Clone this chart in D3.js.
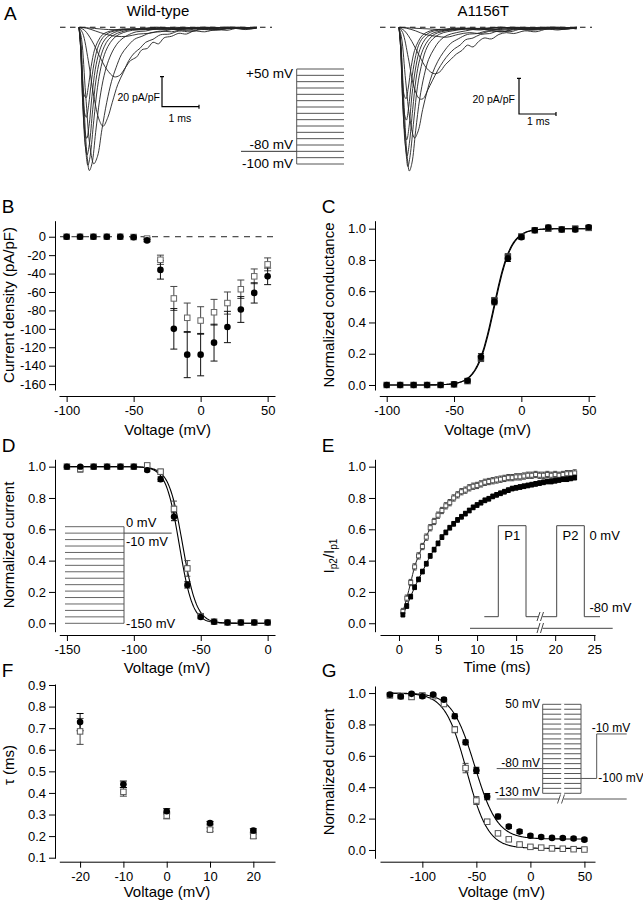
<!DOCTYPE html>
<html><head><meta charset="utf-8">
<script src="https://cdn.jsdelivr.net/npm/d3@7"></script>
<style>
body{margin:0;background:#fff}
svg{display:block;background:#fff}
text{font-family:"Liberation Sans",Arial,Helvetica,sans-serif;fill:#000}
</style></head>
<body><svg id="c" width="643" height="902"></svg>
<script>
// ---------------- DATA ----------------
// Panel A: example traces, [time ms, current pA/pF]
const tracesWT = [
 [[0,0],[0.3,-0.5],[0.8,-1.5],[1.3,-1.5],[1.8,-1],[2.4,-0.5],[3.0,-1],[3.6,0],[4.2,-0.5],[4.8,0]],
 [[0,0],[0.2,-0.5],[0.45,-2.5],[0.7,-4.5],[1.0,-6],[1.3,-6],[1.6,-4.5],[1.9,-4],[2.2,-2.5],[2.5,-3],[2.8,-1.5],[3.1,-2],[3.4,-0.5],[3.8,-1.5],[4.2,-0.5],[4.5,-1],[4.8,0]],
 [[0,0],[0.15,-2],[0.35,-9],[0.55,-19],[0.75,-28],[0.95,-33],[1.1,-32],[1.25,-27],[1.4,-22],[1.55,-20],[1.7,-15],[1.85,-14],[2.0,-10],[2.15,-11],[2.3,-7],[2.5,-6],[2.7,-4],[2.9,-4.5],[3.1,-2.5],[3.4,-3],[3.7,-1.5],[4.0,-2],[4.3,-0.5],[4.6,-1],[4.8,-0.5]],
 [[0,0],[0.1,-4],[0.25,-22],[0.4,-46],[0.55,-62],[0.65,-66],[0.78,-60],[0.9,-50],[1.05,-38],[1.2,-30],[1.35,-22],[1.5,-17],[1.65,-14],[1.8,-10],[2.0,-8],[2.2,-5],[2.45,-4.5],[2.7,-2.5],[3.0,-3],[3.3,-1.5],[3.7,-2],[4.1,-0.5],[4.5,-1.5],[4.8,-0.5]],
 [[0,0],[0.07,-8],[0.18,-45],[0.3,-80],[0.4,-91],[0.5,-86],[0.62,-68],[0.75,-50],[0.88,-36],[1.0,-27],[1.15,-18],[1.3,-13],[1.5,-8],[1.7,-6],[1.95,-3.5],[2.2,-3],[2.5,-1.5],[2.9,-2],[3.3,-0.5],[3.7,-1.5],[4.1,-0.5],[4.5,-1],[4.8,0]],
 [[0,0],[0.05,-10],[0.14,-55],[0.22,-86],[0.28,-95.5],[0.35,-91],[0.45,-70],[0.56,-48],[0.68,-32],[0.8,-22],[0.95,-14],[1.1,-9],[1.3,-5.5],[1.55,-3],[1.8,-2.5],[2.1,-1],[2.5,-1.5],[3.0,-0.5],[3.5,-1.5],[4.0,0],[4.5,-1],[4.8,0]],
 [[0,0],[0.05,-12],[0.12,-55],[0.19,-84],[0.24,-92],[0.3,-86],[0.4,-62],[0.5,-40],[0.6,-26],[0.72,-16],[0.85,-10],[1.0,-6],[1.2,-3.5],[1.45,-2],[1.8,-1.5],[2.2,-0.5],[2.7,-1.5],[3.2,0],[3.8,-1],[4.3,0],[4.8,-0.5]],
 [[0,0],[0.04,-12],[0.11,-55],[0.17,-79],[0.22,-85],[0.28,-78],[0.37,-55],[0.46,-35],[0.56,-22],[0.68,-13],[0.8,-8],[0.95,-5],[1.15,-3],[1.4,-1.5],[1.8,-1],[2.3,-1.5],[2.8,0],[3.4,-1],[4.0,0],[4.8,-0.5]],
 [[0,0],[0.04,-12],[0.1,-50],[0.16,-70],[0.21,-74],[0.27,-66],[0.35,-46],[0.44,-28],[0.54,-17],[0.65,-10],[0.78,-6],[0.95,-3.5],[1.15,-2],[1.5,-1],[2.0,-1.5],[2.6,0],[3.2,-1],[3.9,0],[4.8,-0.5]],
 [[0,0],[0.04,-12],[0.1,-42],[0.15,-57],[0.2,-60],[0.26,-52],[0.34,-35],[0.43,-21],[0.53,-12],[0.64,-7],[0.78,-4],[0.95,-2.5],[1.2,-1.5],[1.6,-1],[2.1,0],[2.7,-1],[3.4,0],[4.1,-0.5],[4.8,0]],
 [[0,0],[0.04,-10],[0.09,-34],[0.14,-45],[0.19,-47],[0.25,-40],[0.33,-26],[0.42,-15],[0.52,-9],[0.63,-5],[0.78,-3],[0.95,-2],[1.2,-1],[1.6,-1.5],[2.1,0],[2.7,-1],[3.4,0],[4.1,-0.5],[4.8,0]]
];
const tracesMut = [
 [[0,0],[0.4,-0.5],[0.9,-1],[1.4,-1.5],[1.9,-0.5],[2.5,-1],[3.1,0],[3.7,-1],[4.3,0],[4.8,-0.5]],
 [[0,0],[0.2,-0.5],[0.45,-2],[0.7,-4],[1.0,-5],[1.3,-5.5],[1.6,-4],[1.9,-3],[2.2,-3.5],[2.5,-2],[2.8,-2.5],[3.1,-1],[3.5,-1.5],[3.9,-0.5],[4.3,-1],[4.8,0]],
 [[0,0],[0.15,-2],[0.35,-8],[0.55,-16],[0.75,-23],[0.95,-26],[1.1,-25],[1.25,-21],[1.4,-18],[1.55,-15],[1.7,-13],[1.85,-10],[2.0,-11],[2.15,-8],[2.3,-6],[2.5,-6.5],[2.7,-4],[2.9,-3],[3.1,-3.5],[3.4,-2],[3.7,-2.5],[4.0,-1],[4.3,-1.5],[4.6,-0.5],[4.8,-1]],
 [[0,0],[0.1,-3],[0.25,-17],[0.4,-33],[0.55,-40],[0.65,-40],[0.78,-35],[0.9,-30],[1.05,-24],[1.2,-19],[1.35,-15],[1.5,-12],[1.65,-10],[1.8,-7],[2.0,-6],[2.2,-4],[2.45,-3.5],[2.7,-2],[3.0,-2.5],[3.3,-1],[3.7,-1.5],[4.1,-0.5],[4.5,-1],[4.8,0]],
 [[0,0],[0.07,-6],[0.18,-30],[0.3,-52],[0.42,-62],[0.52,-58],[0.64,-46],[0.77,-35],[0.9,-26],[1.05,-19],[1.2,-14],[1.4,-9],[1.6,-6.5],[1.85,-4],[2.1,-3.5],[2.4,-2],[2.8,-2.5],[3.2,-1],[3.6,-1.5],[4.0,0],[4.4,-1],[4.8,-0.5]],
 [[0,0],[0.05,-9],[0.14,-45],[0.22,-72],[0.28,-80.5],[0.35,-76],[0.45,-58],[0.56,-40],[0.68,-27],[0.8,-18],[0.95,-12],[1.1,-7.5],[1.3,-4.5],[1.55,-3],[1.8,-2],[2.1,-1],[2.5,-1.5],[3.0,0],[3.5,-1],[4.0,0],[4.5,-1],[4.8,0]],
 [[0,0],[0.05,-10],[0.12,-46],[0.19,-70],[0.24,-78],[0.3,-72],[0.4,-52],[0.5,-33],[0.6,-22],[0.72,-13],[0.85,-8],[1.0,-5],[1.2,-3],[1.45,-2],[1.8,-1],[2.2,-1.5],[2.7,0],[3.2,-1],[3.8,0],[4.3,-0.5],[4.8,0]],
 [[0,0],[0.04,-10],[0.11,-46],[0.17,-66],[0.22,-72],[0.28,-65],[0.37,-46],[0.46,-29],[0.56,-18],[0.68,-11],[0.8,-7],[0.95,-4],[1.15,-2.5],[1.4,-1.5],[1.8,-1],[2.3,-0.5],[2.8,-1.5],[3.4,0],[4.0,-1],[4.8,0]],
 [[0,0],[0.04,-10],[0.1,-42],[0.16,-59],[0.21,-63],[0.27,-56],[0.35,-38],[0.44,-24],[0.54,-14],[0.65,-8.5],[0.78,-5],[0.95,-3],[1.15,-2],[1.5,-1],[2.0,-0.5],[2.6,-1.5],[3.2,0],[3.9,-1],[4.8,0]],
 [[0,0],[0.04,-10],[0.1,-36],[0.15,-49],[0.2,-52],[0.26,-45],[0.34,-30],[0.43,-18],[0.53,-10],[0.64,-6],[0.78,-3.5],[0.95,-2],[1.2,-1.5],[1.6,-0.5],[2.1,-1],[2.7,0],[3.4,-1],[4.1,0],[4.8,-0.5]],
 [[0,0],[0.04,-8],[0.09,-28],[0.14,-38],[0.19,-40],[0.25,-34],[0.33,-22],[0.42,-13],[0.52,-8],[0.63,-4.5],[0.78,-2.5],[0.95,-1.5],[1.2,-1],[1.6,-0.5],[2.1,-1],[2.7,0],[3.4,-0.5],[4.1,0],[4.8,-0.5]]
];
const stepsA = [50,40,30,20,10,0,-10,-20,-30,-40,-50,-60,-70,-80,-90,-100];

// Panel B: current density
const voltsB = [-100,-90,-80,-70,-60,-50,-40,-30,-20,-10,0,10,20,30,40,50];
const wtB    = [0,0,0,0,0,-0.5,-4,-36,-100,-128,-128,-115,-98,-79,-61,-43];
const wtBerr = [0,0,0,0,0,0,1.5,10,22,25,23,20,17,14,11,9];
const mutB   = [0,0,0,0,0,-0.3,-2,-25,-67,-88,-91,-82,-72,-57,-43,-30];
const mutBerr= [0,0,0,0,0,0,1,5,13,16,15,14,12,10,8,7];
const ticksB = [0,-20,-40,-60,-80,-100,-120,-140,-160];

// Panel C: normalized conductance
const voltsC = [-100,-90,-80,-70,-60,-50,-40,-30,-20,-10,0,10,20,30,40,50];
const wtC    = [0,0,0,0,0,0.005,0.028,0.18,0.533,0.81,0.945,0.99,1.008,0.995,0.995,1.01];
const wtCerr = [0,0,0,0,0,0.003,0.008,0.02,0.02,0.02,0.01,0.008,0.015,0.006,0.015,0.01];
const mutC   = [0,0,0,0,0,0.004,0.025,0.17,0.54,0.82,0.95,0.99,1.0,0.995,1.0,1.005];
const mutCerr= [0,0,0,0,0,0.003,0.008,0.02,0.02,0.02,0.01,0.008,0.01,0.006,0.015,0.01];
const fitC = {wt:{vh:-20.5,k:6.3}, mut:{vh:-20,k:6.3}};

// Panel D: steady-state inactivation
const voltsD = [-150,-140,-130,-120,-110,-100,-90,-80,-70,-60,-50,-40,-30,-20,-10,0];
const wtD    = [1.0,1.0,1.0,1.0,1.0,1.0,0.978,0.92,0.68,0.245,0.04,0.01,0.005,0.005,0.005,0.005];
const wtDerr = [0.005,0.005,0.005,0.005,0.005,0.005,0.01,0.015,0.025,0.02,0.008,0.005,0.005,0.005,0.005,0.005];
const mutD   = [1.0,0.985,1.0,1.0,1.0,1.0,1.008,0.968,0.73,0.35,0.045,0.01,0.005,0.005,0.005,0.005];
const mutDerr= [0.005,0.02,0.005,0.005,0.005,0.005,0.01,0.015,0.05,0.05,0.01,0.005,0.005,0.005,0.01,0.01];
const stepsD = [0,-10,-20,-30,-40,-50,-60,-70,-80,-90,-100,-110,-120,-130,-140,-150];
const fitD = {wt:{vh:-66,k:5}, mut:{vh:-63.5,k:5.2}};

// Panel E: recovery from inactivation
const timeE = [0.5,1,1.5,2,2.5,3,3.5,4,4.5,5,5.5,6,6.5,7,7.5,8,8.5,9,9.5,10,10.5,11,11.5,12,12.5,13,13.5,14,14.5,15,15.5,16,16.5,17,17.5,18,18.5,19,19.5,20,20.5,21,21.5,22,22.5];
const wtE  = [0.055,0.11,0.17,0.23,0.28,0.33,0.38,0.43,0.47,0.51,0.55,0.58,0.61,0.635,0.66,0.68,0.7,0.72,0.74,0.755,0.77,0.785,0.795,0.81,0.82,0.83,0.84,0.85,0.86,0.865,0.87,0.875,0.88,0.885,0.89,0.895,0.9,0.905,0.905,0.91,0.915,0.92,0.92,0.925,0.93];
const mutE = [0.075,0.16,0.26,0.36,0.43,0.49,0.55,0.61,0.65,0.69,0.72,0.75,0.77,0.8,0.82,0.84,0.85,0.865,0.875,0.88,0.89,0.9,0.905,0.91,0.915,0.92,0.925,0.93,0.93,0.935,0.935,0.94,0.945,0.945,0.95,0.945,0.945,0.95,0.945,0.95,0.945,0.95,0.955,0.955,0.96];
const errE = {wt:0.015, mut:0.02};

// Panel F: inactivation time constants
const voltsF = [-20,-10,0,10,20];
const wtF    = [0.728,0.44,0.315,0.26,0.226];
const wtFerr = [0.04,0.015,0.012,0.008,0.008];
const mutF   = [0.685,0.405,0.295,0.23,0.2];
const mutFerr= [0.06,0.02,0.015,0.008,0.01];

// Panel G: closed-state inactivation
const voltsG = [-130,-120,-110,-100,-90,-80,-70,-60,-50,-40,-30,-20,-10,0,10,20,30,40,50];
const wtG    = [0.99,0.978,0.995,0.98,0.99,0.958,0.852,0.686,0.507,0.34,0.213,0.149,0.117,0.091,0.083,0.077,0.076,0.073,0.066];
const wtGerr = [0.01,0.01,0.01,0.01,0.01,0.012,0.015,0.015,0.02,0.02,0.015,0.012,0.012,0.01,0.01,0.01,0.01,0.01,0.01];
const mutG   = [0.985,0.98,0.975,0.985,0.98,0.93,0.767,0.522,0.315,0.18,0.106,0.068,0.035,0.02,0.015,0.01,0.008,0.005,0.003];
const mutGerr= [0.01,0.01,0.015,0.01,0.01,0.015,0.02,0.03,0.025,0.015,0.01,0.01,0.008,0.008,0.006,0.006,0.006,0.006,0.006];
const stepsG = [50,40,30,20,10,0,-10,-20,-30,-40,-50,-60,-70,-80,-90,-100,-110,-120,-130];
const fitG = {wt:{vh:-51.5,k:10.5,c:0.07}, mut:{vh:-59,k:10,c:0.01}};

// ---------------- DRAWING ----------------
const svg = d3.select('#c');
const FONT = '"Liberation Sans", Arial, Helvetica, sans-serif';
const fmtInt = d => String(d);
const fmt1 = d => d.toFixed(1);

function txt(g, x, y, s, size, anchor){
  return g.append('text').attr('x',x).attr('y',y).attr('font-size',size)
    .attr('text-anchor',anchor||'start').text(s);
}

function panel(c){
  const g = svg.append('g');
  const x = d3.scaleLinear().domain(c.xd).range(c.xr);
  const y = d3.scaleLinear().domain(c.yd).range(c.yr);
  g.append('g').attr('transform',`translate(${c.yx},0)`)
    .call(d3.axisLeft(y).tickValues(c.yt).tickSize(6).tickPadding(3).tickSizeOuter(0).tickFormat(c.yf));
  g.append('g').attr('transform',`translate(0,${c.xy})`)
    .call(d3.axisBottom(x).tickValues(c.xt).tickSize(6).tickPadding(4).tickSizeOuter(0).tickFormat(fmtInt));
  g.selectAll('.tick text').attr('font-size',13).attr('font-family',FONT).attr('fill','#000');
  g.selectAll('.domain, .tick line').attr('stroke','#000').attr('stroke-width',1);
  txt(g, c.xtx, c.xty, c.xTitle, 15, 'middle');
  if (c.yTitle) g.append('text').attr('transform',`translate(${c.ytx},${c.yty}) rotate(-90)`)
    .attr('text-anchor','middle').attr('font-size',15).text(c.yTitle);
  txt(g, c.lx, c.ly, c.letter, 19);
  return {g,x,y};
}

function errBars(p, xs, vals, errs, color, cap){
  const d = xs.map((v,i)=>({v, m:vals[i], e:errs[i]})).filter(d=>d.e>0);
  const gg = p.g.append('g').attr('stroke',color).attr('stroke-width',1);
  gg.selectAll('line.v').data(d).join('line')
    .attr('x1',d=>p.x(d.v)).attr('x2',d=>p.x(d.v))
    .attr('y1',d=>p.y(d.m-d.e)).attr('y2',d=>p.y(d.m+d.e));
  [1,-1].forEach(s=>{
    gg.selectAll(null).data(d).join('line')
      .attr('x1',d=>p.x(d.v)-cap/2).attr('x2',d=>p.x(d.v)+cap/2)
      .attr('y1',d=>p.y(d.m+s*d.e)).attr('y2',d=>p.y(d.m+s*d.e));
  });
}
function circles(p, xs, vals, r){
  p.g.append('g').selectAll('circle').data(xs.map((v,i)=>[v,vals[i]])).join('circle')
    .attr('cx',d=>p.x(d[0])).attr('cy',d=>p.y(d[1])).attr('r',r).attr('fill','#000');
}
function squares(p, xs, vals, s, stroke, fill){
  p.g.append('g').selectAll('rect').data(xs.map((v,i)=>[v,vals[i]])).join('rect')
    .attr('x',d=>p.x(d[0])-s/2).attr('y',d=>p.y(d[1])-s/2).attr('width',s).attr('height',s)
    .attr('fill',fill||'#fff').attr('stroke',stroke||'#555').attr('stroke-width',1);
}
function fitLine(p, f, lo, hi, fn){
  const vs = d3.range(lo, hi+0.01, 0.5);
  p.g.append('path').attr('fill','none').attr('stroke','#000').attr('stroke-width',1.1)
    .attr('d', d3.line().x(v=>p.x(v)).y(v=>p.y(fn(v,f)))(vs));
}
const boltzAct = (v,f)=>1/(1+Math.exp((f.vh-v)/f.k));
const boltzInact = (v,f)=>(f.c||0)+(1-(f.c||0))/(1+Math.exp((v-f.vh)/f.k));

// ---- Panel A ----
(function(){
  const g = svg.append('g');
  txt(g, 4, 20, 'A', 19);
  txt(g, 158, 16, 'Wild-type', 15, 'middle');
  txt(g, 483.3, 16, 'A1156T', 15, 'middle');
  const sets = [
    {tr:tracesWT, x:d3.scaleLinear().domain([0,1]).range([79,116]), y:d3.scaleLinear().domain([0,-20]).range([27.3,57.3]), dash:[60,272], sb:[162,106.7], lab:[160,100.7], ms:[180,121.7]},
    {tr:tracesMut, x:d3.scaleLinear().domain([0,1]).range([399,436]), y:d3.scaleLinear().domain([0,-20]).range([27.3,63]), dash:[380,592], sb:[519,114], lab:[515,103.3], ms:[538.5,125]}
  ];
  sets.forEach(s=>{
    g.append('line').attr('x1',s.dash[0]).attr('x2',s.dash[1]).attr('y1',s.y(0)).attr('y2',s.y(0))
      .attr('stroke','#111').attr('stroke-width',1.1).attr('stroke-dasharray','5.5,4.5');
    const line = d3.line().x(d=>s.x(d[0])).y(d=>s.y(d[1])).curve(d3.curveCatmullRom.alpha(0.5));
    g.append('g').selectAll('path').data(s.tr).join('path').attr('d',line)
      .attr('fill','none').attr('stroke','#222').attr('stroke-width',0.9);
    const [bx,by] = s.sb;
    const h = s.y(-20)-s.y(0), w = s.x(1)-s.x(0);
    g.append('path').attr('d',`M${bx-2},${by-h}H${bx+2}M${bx},${by-h}V${by}H${bx+w}M${bx+w},${by-2}V${by+2}`)
      .attr('fill','none').attr('stroke','#000').attr('stroke-width',1.2);
    txt(g, s.lab[0], s.lab[1], '20 pA/pF', 10.5, 'end');
    txt(g, s.ms[0], s.ms[1], '1 ms', 10.5, 'middle');
  });
  const pv = d3.scaleLinear().domain([-100,50]).range([164,69]);
  g.append('g').selectAll('line').data(stepsA).join('line')
    .attr('x1',296.7).attr('x2',344).attr('y1',d=>pv(d)).attr('y2',d=>pv(d))
    .attr('stroke','#555').attr('stroke-width',1);
  g.append('line').attr('x1',296.7).attr('x2',296.7).attr('y1',pv(50)).attr('y2',pv(-100)).attr('stroke','#555');
  g.append('line').attr('x1',241).attr('x2',296.7).attr('y1',pv(-80)).attr('y2',pv(-80)).attr('stroke','#333');
  txt(g, 293, pv(50)+9.3, '+50 mV', 13.5, 'end');
  txt(g, 293, pv(-80)-2.3, '-80 mV', 13.5, 'end');
  txt(g, 293, pv(-100)+4, '-100 mV', 13.5, 'end');
})();

// ---- Panel B ----
(function(){
  const p = panel({xd:[-105.7,55.5], xr:[59,275], yd:[-166.4,17.4], yr:[390,220.7], yx:55, xy:396,
    xt:[-100,-50,0,50], yt:ticksB, yf:fmtInt, xTitle:'Voltage (mV)', xtx:167.7, xty:434.5,
    yTitle:'Current density (pA/pF)', ytx:14, yty:305, letter:'B', lx:1.7, ly:213.3});
  p.g.append('line').attr('x1',60).attr('x2',275).attr('y1',p.y(0)).attr('y2',p.y(0))
    .attr('stroke','#222').attr('stroke-dasharray','6,5.5');
  errBars(p, voltsB, mutB, mutBerr, '#444', 7);
  errBars(p, voltsB, wtB, wtBerr, '#111', 7);
  squares(p, voltsB, mutB, 5.5, '#666');
  circles(p, voltsB, wtB, 3.3);
})();

// ---- Panel C ----
(function(){
  const p = panel({xd:[-105.5,54.7], xr:[379.3,595], yd:[-0.032,1.051], yr:[390,220.7], yx:375, xy:396,
    xt:[-100,-50,0,50], yt:[0,0.2,0.4,0.6,0.8,1.0], yf:fmt1, xTitle:'Voltage (mV)', xtx:487.7, xty:434.5,
    yTitle:'Normalized conductance', ytx:334, yty:305, letter:'C', lx:321.7, ly:213.3});
  fitLine(p, fitC.mut, -100, 50, boltzAct);
  fitLine(p, fitC.wt, -100, 50, boltzAct);
  errBars(p, voltsC, mutC, mutCerr, '#333', 6);
  errBars(p, voltsC, wtC, wtCerr, '#000', 6);
  squares(p, voltsC, mutC, 5.5, '#444', '#222');
  circles(p, voltsC, wtC, 3.2);
})();

// ---- Panel D ----
(function(){
  const p = panel({xd:[-155.7,5.5], xr:[59.3,275], yd:[-0.054,1.047], yr:[631.7,459.3], yx:55, xy:635,
    xt:[-150,-100,-50,0], yt:[0,0.2,0.4,0.6,0.8,1.0], yf:fmt1, xTitle:'Voltage (mV)', xtx:167, xty:672.5,
    yTitle:'Normalized current', ytx:14, yty:545, letter:'D', lx:1.7, ly:451.7});
  const pv = d3.scaleLinear().domain([-150,0]).range([623.3,526.7]);
  p.g.append('g').selectAll('line').data(stepsD).join('line')
    .attr('x1',65).attr('x2',124).attr('y1',d=>pv(d)).attr('y2',d=>pv(d))
    .attr('stroke','#666').attr('stroke-width',1);
  p.g.append('line').attr('x1',124).attr('x2',124).attr('y1',pv(0)).attr('y2',pv(-150)).attr('stroke','#555');
  p.g.append('line').attr('x1',124).attr('x2',171.7).attr('y1',pv(-10)).attr('y2',pv(-10)).attr('stroke','#444');
  txt(p.g, 126, 526.7, '0 mV', 13);
  txt(p.g, 126, 545.7, '-10 mV', 13);
  txt(p.g, 126, 627.5, '-150 mV', 13);
  fitLine(p, fitD.mut, -150, 0, boltzInact);
  fitLine(p, fitD.wt, -150, 0, boltzInact);
  errBars(p, voltsD, mutD, mutDerr, '#444', 6);
  errBars(p, voltsD, wtD, wtDerr, '#000', 6);
  squares(p, voltsD, mutD, 5.5, '#555');
  circles(p, voltsD, wtD, 3.2);
})();

// ---- Panel E ----
(function(){
  const p = panel({xd:[-2.43,25.1], xr:[380,595], yd:[-0.054,1.047], yr:[631.7,459.3], yx:375, xy:635,
    xt:[0,5,10,15,20,25], yt:[0,0.2,0.4,0.6,0.8,1.0], yf:fmt1, xTitle:'Time (ms)', xtx:497, xty:672,
    yTitle:null, letter:'E', lx:321.7, ly:451.7});
  const yl = p.g.append('text').attr('transform','translate(334,556) rotate(-90)')
    .attr('text-anchor','middle').attr('font-size',15);
  yl.append('tspan').text('I');
  yl.append('tspan').attr('font-size',10).attr('dy',3).text('p2');
  yl.append('tspan').attr('dy',-3).text('/I');
  yl.append('tspan').attr('font-size',10).attr('dy',3).text('p1');
  const top = 525.7, bot = 616.7;
  const pr = p.g.append('g').attr('fill','none').attr('stroke','#444').attr('stroke-width',1);
  pr.append('path').attr('d',`M484.3,${bot}H498.3V${top}H526V${bot}H538.5`);
  pr.append('path').attr('d',`M542.5,${bot}H556.7V${top}H584.3V${bot}H600`);
  pr.append('path').attr('d',`M470,628.3H538.5M542.5,628.3H612.7`);
  pr.append('path').attr('d',`M537,621L540,612M540.5,621L543.5,612M537,633L540,623M540.5,633L543.5,623`);
  txt(p.g, 512.2, 540, 'P1', 13, 'middle');
  txt(p.g, 570.5, 540, 'P2', 13, 'middle');
  txt(p.g, 589.5, 540, '0 mV', 13);
  txt(p.g, 589.5, 612.3, '-80 mV', 13);
  const line = d3.line().x((d,i)=>p.x(timeE[i])).y(d=>p.y(d)).curve(d3.curveMonotoneX);
  p.g.append('path').attr('d',line(mutE)).attr('fill','none').attr('stroke','#222').attr('stroke-width',1);
  p.g.append('path').attr('d',line(wtE)).attr('fill','none').attr('stroke','#000').attr('stroke-width',1);
  errBars(p, timeE, mutE, timeE.map(()=>errE.mut), '#444', 4);
  errBars(p, timeE, wtE, timeE.map(()=>errE.wt), '#000', 4);
  squares(p, timeE, mutE, 4, '#555');
  squares(p, timeE, wtE, 3.8, '#000', '#000');
})();

// ---- Panel F ----
(function(){
  const p = panel({xd:[-24.8,25], xr:[59.3,275], yd:[0.0972,0.9046], yr:[858.3,684], yx:55, xy:861.7,
    xt:[-20,-10,0,10,20], yt:[0.1,0.2,0.3,0.4,0.5,0.6,0.7,0.8,0.9], yf:fmt1, xTitle:'Voltage (mV)', xtx:167, xty:896.5,
    yTitle:'τ (ms)', ytx:14, yty:765, letter:'F', lx:1.7, ly:676.7});
  errBars(p, voltsF, mutF, mutFerr, '#444', 7);
  errBars(p, voltsF, wtF, wtFerr, '#000', 7);
  squares(p, voltsF, mutF, 5.5, '#555');
  circles(p, voltsF, wtF, 3.3);
})();

// ---- Panel G ----
(function(){
  const p = panel({xd:[-139.2,59.8], xr:[380,595], yd:[-0.053,1.045], yr:[858.3,686], yx:375, xy:861.7,
    xt:[-100,-50,0,50], yt:[0,0.2,0.4,0.6,0.8,1.0], yf:fmt1, xTitle:'Voltage (mV)', xtx:501.7, xty:896.5,
    yTitle:'Normalized current', ytx:334, yty:772, letter:'G', lx:321.7, ly:676.7});
  const pv = d3.scaleLinear().domain([-130,50]).range([793.3,704.3]);
  const pr = p.g.append('g').attr('fill','none').attr('stroke','#555').attr('stroke-width',1);
  pr.selectAll('line').data(stepsG).join('line')
    .attr('x1',542.7).attr('x2',581).attr('y1',d=>pv(d)).attr('y2',d=>pv(d));
  pr.append('path').attr('d',`M542.7,${pv(50)}V${pv(-130)}M581,${pv(50)}V${pv(-130)}`);
  p.g.append('line').attr('x1',562.7).attr('x2',562.7).attr('y1',pv(50)-1).attr('y2',pv(-130)+1)
    .attr('stroke','#fff').attr('stroke-width',3);
  pr.append('path').attr('d',`M496.7,${pv(-80)}H542.7`);
  pr.append('path').attr('d',`M581,${pv(-100)}H596.7V${pv(-10)}H626.7`);
  pr.append('path').attr('d',`M496.7,799H559.5M563.5,799H626.7`);
  pr.append('path').attr('d',`M557.5,803.5L560.5,794.5M561.5,803.5L564.5,794.5`);
  txt(p.g, 540, 708.3, '50 mV', 12, 'end');
  txt(p.g, 540, 766.7, '-80 mV', 12, 'end');
  txt(p.g, 540, 795.7, '-130 mV', 12, 'end');
  txt(p.g, 591.7, 732.3, '-10 mV', 12);
  txt(p.g, 598.3, 781.7, '-100 mV', 12);
  fitLine(p, fitG.mut, -130, 50, boltzInact);
  fitLine(p, fitG.wt, -130, 50, boltzInact);
  errBars(p, voltsG, mutG, mutGerr, '#444', 6);
  errBars(p, voltsG, wtG, wtGerr, '#000', 6);
  squares(p, voltsG, mutG, 5.5, '#555');
  circles(p, voltsG, wtG, 3.3);
})();
</script></body></html>
